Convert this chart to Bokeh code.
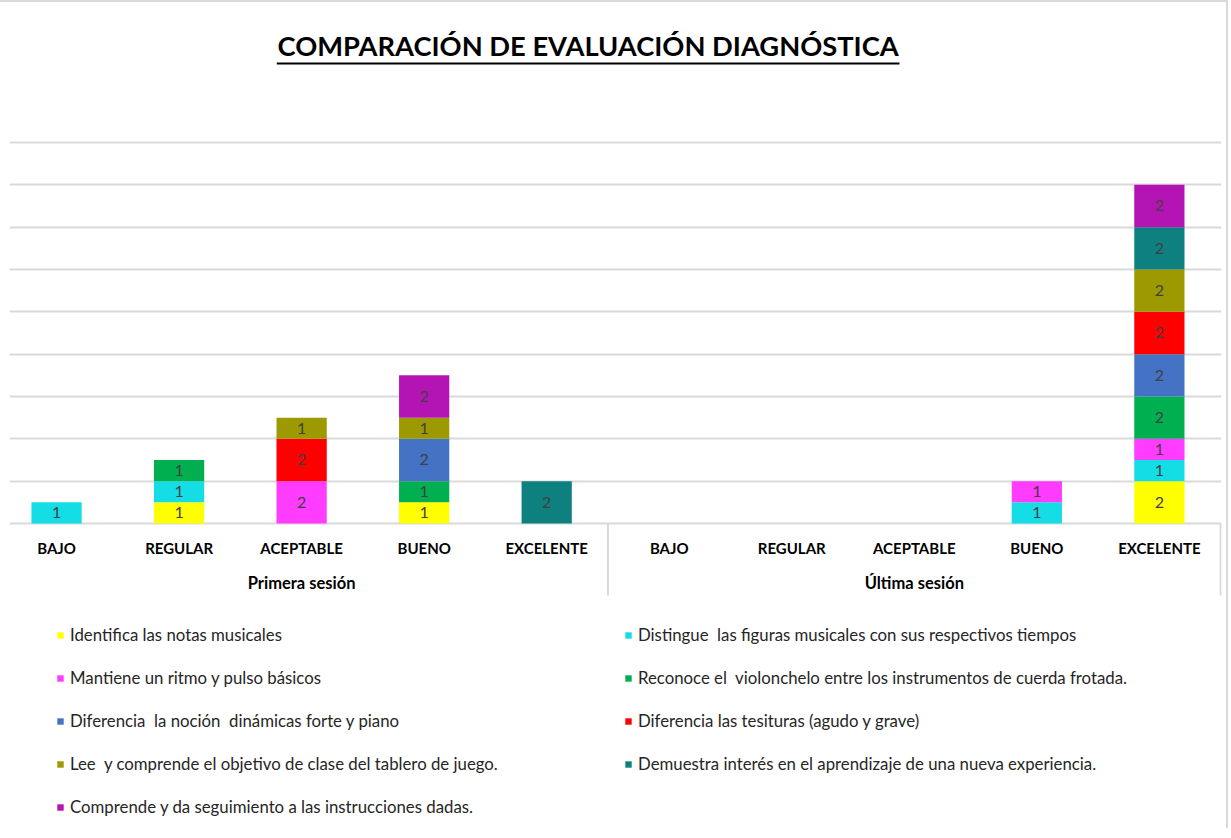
from bokeh.plotting import figure
from bokeh.models import (ColumnDataSource, Range1d, LinearAxis, FixedTicker, Grid,
                          Legend, LegendItem, Label)
from bokeh.core.properties import value
from bokeh.embed import file_html
from bokeh.resources import INLINE

# ---------------- data ----------------
title_text = "COMPARACIÓN DE EVALUACIÓN DIAGNÓSTICA"
levels = ["BAJO", "REGULAR", "ACEPTABLE", "BUENO", "EXCELENTE"]
sessions = ["Primera sesión", "Última sesión"]

series_names = [
    "Identifica las notas musicales",
    "Distingue  las figuras musicales con sus respectivos tiempos",
    "Mantiene un ritmo y pulso básicos",
    "Reconoce el  violonchelo entre los instrumentos de cuerda frotada.",
    "Diferencia  la noción  dinámicas forte y piano",
    "Diferencia las tesituras (agudo y grave)",
    "Lee  y comprende el objetivo de clase del tablero de juego.",
    "Demuestra interés en el aprendizaje de una nueva experiencia.",
    "Comprende y da seguimiento a las instrucciones dadas.",
]
series_colors = ["#FFFF00", "#14DDE6", "#FF3CFF", "#00B050", "#4472C4",
                 "#FF0000", "#9C9A00", "#0E8080", "#B514B5"]

# values: Primera sesión (BAJO..EXCELENTE), Última sesión (BAJO..EXCELENTE)
identifica = [0, 1, 0, 1, 0, 0, 0, 0, 0, 2]
distingue = [1, 1, 0, 0, 0, 0, 0, 0, 1, 1]
mantiene = [0, 0, 2, 0, 0, 0, 0, 0, 1, 1]
reconoce = [0, 1, 0, 1, 0, 0, 0, 0, 0, 2]
dinamicas = [0, 0, 0, 2, 0, 0, 0, 0, 0, 2]
tesituras = [0, 0, 2, 0, 0, 0, 0, 0, 0, 2]
lee = [0, 0, 1, 1, 0, 0, 0, 0, 0, 2]
demuestra = [0, 0, 0, 0, 2, 0, 0, 0, 0, 2]
comprende = [0, 0, 0, 2, 0, 0, 0, 0, 0, 2]

series_values = [identifica, distingue, mantiene, reconoce, dinamicas,
                 tesituras, lee, demuestra, comprende]
y_ticks = list(range(0, 19, 2))

# ---------------- build ----------------
n_cat = len(levels) * len(sessions)
xs = list(range(n_cat))
cat_labels = levels * len(sessions)
keys = ["s%d" % i for i in range(len(series_values))]

data = {"x": xs}
for k, v in zip(keys, series_values):
    data[k] = v
source = ColumnDataSource(data)

FONT = "Lato"

p = figure(width=1228, height=828, output_backend="svg", toolbar_location=None,
           x_range=Range1d(-0.384, 9.507), y_range=Range1d(-14.504, 24.236),
           x_axis_type=None, y_axis_type=None,
           min_border_left=9, min_border_right=7, min_border_top=8, min_border_bottom=0,
           styles={"border-top": "2px solid #d9d9d9", "border-right": "2px solid #d9d9d9"})
p.outline_line_color = None
p.background_fill_color = "white"
p.border_fill_color = "white"

grid = Grid(dimension=1, ticker=FixedTicker(ticks=y_ticks),
            grid_line_color="#d9d9d9", grid_line_width=2)
p.add_layout(grid)

renderers = p.vbar_stack(keys, x="x", width=0.41, color=series_colors,
                         line_color=None, source=source)

# data labels at the middle of each segment
lx, ly, lt = [], [], []
for i in xs:
    base = 0
    for vals in series_values:
        v = vals[i]
        if v:
            lx.append(i)
            ly.append(base + v / 2)
            lt.append(str(v))
        base += v
p.text(x=lx, y=ly, text=lt, text_align="center", text_baseline="middle",
       text_font=value(FONT), text_font_size="16px", text_color="#404040")

# category axis
cat_axis = LinearAxis(fixed_location=0, ticker=FixedTicker(ticks=xs),
                      major_label_overrides={i: lab for i, lab in zip(xs, cat_labels)},
                      axis_line_color=None, major_tick_line_color=None,
                      minor_tick_line_color=None, major_tick_out=0, major_tick_in=0,
                      major_label_standoff=16, major_label_text_font=FONT,
                      major_label_text_font_style="bold", major_label_text_font_size="15px",
                      major_label_text_color="#000000")
p.add_layout(cat_axis, "below")

# group axis
group_ticks = [len(levels) * g + (len(levels) - 1) / 2 for g in range(len(sessions))]
grp_axis = LinearAxis(fixed_location=0, ticker=FixedTicker(ticks=group_ticks),
                      major_label_overrides={t: s for t, s in zip(group_ticks, sessions)},
                      axis_line_color=None, major_tick_line_color=None,
                      minor_tick_line_color=None, major_tick_out=0, major_tick_in=0,
                      major_label_standoff=50, major_label_text_font=FONT,
                      major_label_text_font_style="bold", major_label_text_font_size="16.5px",
                      major_label_text_color="#000000")
p.add_layout(grp_axis, "below")

# group separators
sep_x = [len(levels) * (g + 1) - 0.5 for g in range(len(sessions))]
p.segment(x0=sep_x, y0=[0] * len(sep_x), x1=sep_x, y1=[-3.4] * len(sep_x),
          line_color="#d9d9d9", line_width=2)

# title with underline
p.add_layout(Label(x=4.338, y=22.58, text=title_text, text_align="center",
                   text_baseline="middle", text_font=FONT, text_font_style="bold",
                   text_font_size="27.3px", text_color="#000000"))
p.segment(x0=[1.797], y0=[21.73], x1=[6.879], y1=[21.73], line_color="#000000", line_width=2)

legend = Legend(items=[LegendItem(label=nm, renderers=[r]) for nm, r in zip(series_names, renderers)],
                orientation="horizontal", ncols=2, location=(47, 13),
                glyph_width=8, glyph_height=8, label_height=20, label_width=532,
                label_standoff=6, spacing=22, padding=0, margin=0,
                border_line_color=None, background_fill_alpha=0,
                label_text_font=FONT, label_text_font_size="16.8px",
                label_text_color="#262626")
p.add_layout(legend)

open("out.html", "w").write(file_html(p, INLINE))
